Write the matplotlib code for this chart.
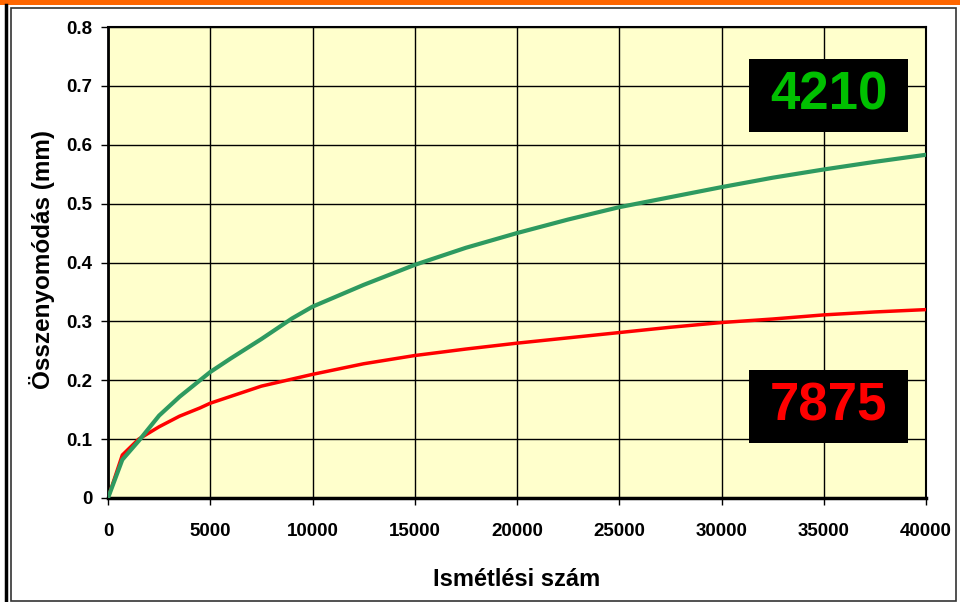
import matplotlib.pyplot as plt
from matplotlib.patches import Rectangle
from matplotlib.lines import Line2D

# Data
cycles_green = [0, 700, 1500, 2500, 3500, 4500, 5000, 6000, 7500, 9000, 10000,
                12500, 15000, 17500, 20000, 22500, 25000, 27500, 30000,
                32500, 35000, 37500, 40000]
green = [0, 0.065, 0.097, 0.14, 0.172, 0.2, 0.214, 0.237, 0.27, 0.305, 0.325,
         0.362, 0.396, 0.425, 0.45, 0.473, 0.494, 0.511, 0.528,
         0.544, 0.558, 0.571, 0.583]

cycles_red = [0, 700, 1500, 2500, 3500, 4500, 5000, 7500, 10000, 12500, 15000,
              17500, 20000, 22500, 25000, 27500, 30000, 32500, 35000,
              37500, 40000]
red = [0, 0.073, 0.1, 0.121, 0.139, 0.153, 0.161, 0.19, 0.21, 0.228, 0.242,
       0.253, 0.263, 0.272, 0.281, 0.29, 0.298, 0.304, 0.311, 0.316, 0.32]

label_green = "4210"
label_red = "7875"

plt.rcParams["font.family"] = ["Liberation Sans", "DejaVu Sans"]
plt.rcParams["font.weight"] = "bold"

fig = plt.figure(figsize=(9.6, 6.02), dpi=100)
W, H = 960, 602

# Frame decorations (slide border)
fig.patches.append(Rectangle((0, 1 - 5 / H), 1, 5 / H, transform=fig.transFigure,
                             facecolor="#FF6600", edgecolor="none", zorder=0))
fig.lines.append(Line2D([5.5 / W, 5.5 / W], [0, 1 - 5 / H], transform=fig.transFigure,
                        color="black", lw=2.5))
fig.patches.append(Rectangle((10.5 / W, 1.5 / H), 945 / W, (594 - 1.5) / H,
                             transform=fig.transFigure, facecolor="none",
                             edgecolor="#333333", lw=1.2))

ax = fig.add_axes([108 / W, 1 - 498 / H, 818 / W, 471 / H])
ax.set_facecolor("#FFFFCC")

ax.plot(cycles_red, red, color="#FF0000", lw=2.5, zorder=3)
ax.plot(cycles_green, green, color="#2E9A60", lw=3, zorder=4)

ax.set_xlim(0, 40000)
ax.set_ylim(0, 0.8)
ax.set_xticks(range(0, 40001, 5000))
ax.set_yticks([i / 10 for i in range(9)])
ax.set_yticklabels(["0", "0.1", "0.2", "0.3", "0.4", "0.5", "0.6", "0.7", "0.8"])
ax.grid(True, color="black", lw=1)
ax.set_axisbelow(True)
ax.tick_params(labelsize=13.5, length=5, width=1)
ax.tick_params(axis="x", pad=13)
ax.tick_params(axis="y", pad=6)
for lbl in ax.get_xticklabels() + ax.get_yticklabels():
    lbl.set_fontweight("bold")
for s in ax.spines.values():
    s.set_linewidth(1.5)
ax.spines["left"].set_linewidth(2)
ax.spines["bottom"].set_linewidth(2.5)

fig.text(517 / W, 1 - 580 / H, "Ismétlési szám", ha="center", va="center",
         fontsize=17, fontweight="bold")
fig.text(42 / W, 1 - 260 / H, "Összenyomódás (mm)", ha="center", va="center",
         rotation=90, fontsize=17.5, fontweight="bold")

# Labelled boxes
bw, bh = 159 / 818, 73 / 471
for label, color, cy in [(label_green, "#00C000", 0.855), (label_red, "#FF0000", 0.195)]:
    ax.add_patch(Rectangle((0.881 - bw / 2, cy - bh / 2), bw, bh, transform=ax.transAxes,
                           facecolor="black", edgecolor="none", zorder=5))
    ax.text(0.881, cy, label, transform=ax.transAxes, ha="center", va="center",
            fontsize=38, fontweight="bold", color=color, zorder=6)

fig.savefig("out.png", dpi=100)
